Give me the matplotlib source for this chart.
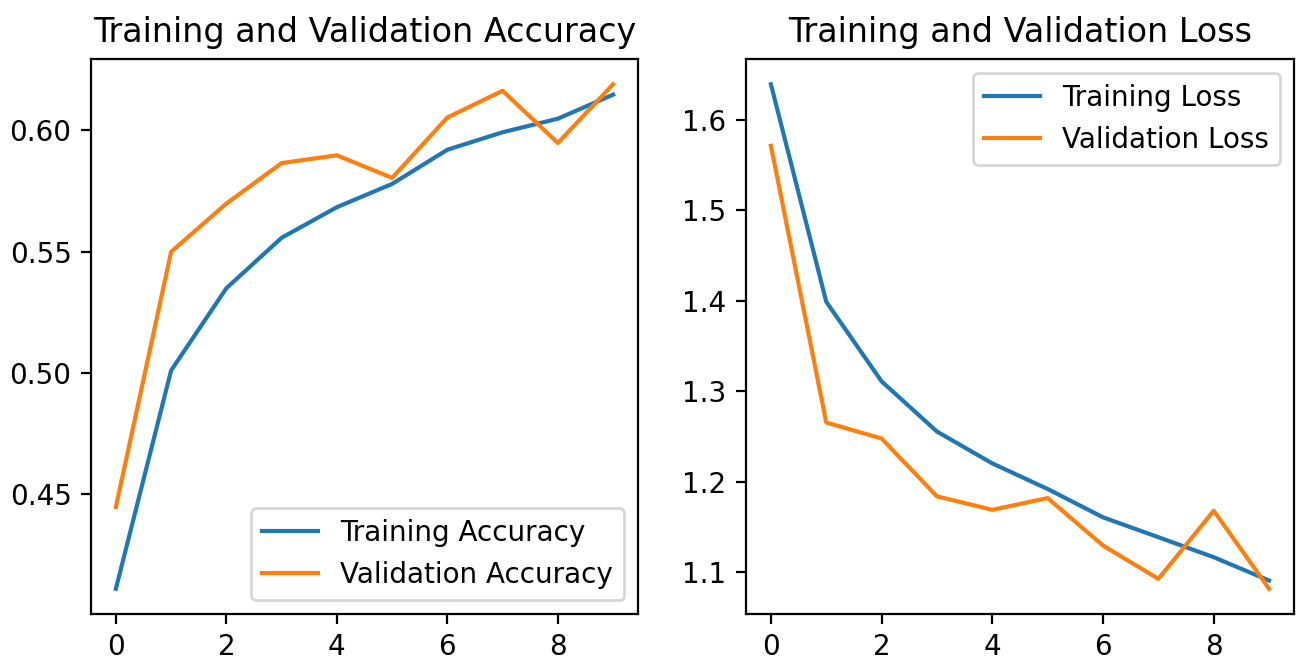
import matplotlib.pyplot as plt

epochs_range = list(range(10))

acc = [0.411, 0.501, 0.5349, 0.5557, 0.5683, 0.5779, 0.5920, 0.5992, 0.6048, 0.6147]
val_acc = [0.4447, 0.5499, 0.5698, 0.5865, 0.5897, 0.5804, 0.6053, 0.6163, 0.5948, 0.6190]

loss = [1.6395, 1.399, 1.311, 1.2555, 1.2203, 1.1920, 1.1607, 1.1387, 1.1166, 1.0908]
val_loss = [1.5715, 1.2655, 1.2478, 1.1839, 1.1690, 1.1820, 1.1295, 1.0927, 1.1680, 1.0817]

W, H = 1310, 663
fig = plt.figure(figsize=(W / 200, H / 200), dpi=200)

ax1 = fig.add_axes([91 / W, 1 - 614 / H, (638 - 91) / W, (614 - 59) / H])
ax1.plot(epochs_range, acc, label='Training Accuracy')
ax1.plot(epochs_range, val_acc, label='Validation Accuracy')
ax1.legend(loc='lower right')
ax1.set_title('Training and Validation Accuracy')

ax2 = fig.add_axes([746 / W, 1 - 614 / H, (1294 - 746) / W, (614 - 59) / H])
ax2.plot(epochs_range, loss, label='Training Loss')
ax2.plot(epochs_range, val_loss, label='Validation Loss')
ax2.legend(loc='upper right')
ax2.set_title('Training and Validation Loss')

fig.savefig('out.png', dpi=200)
